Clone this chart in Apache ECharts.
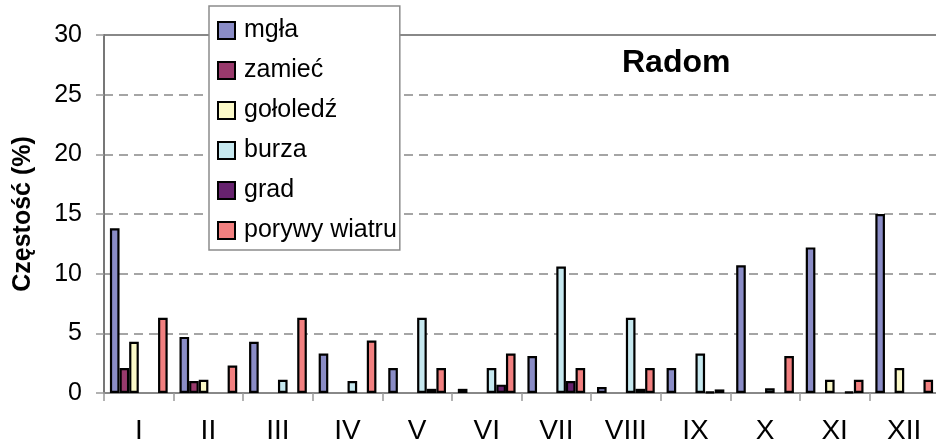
<!DOCTYPE html>
<html>
<head>
<meta charset="utf-8">
<script src="https://cdn.jsdelivr.net/npm/echarts@6/dist/echarts.min.js"></script>
<style>
	html, body { margin: 0; padding: 0; background: #fff; }
	#chart { width: 936px; height: 446px; }
</style>
</head>
<body>
<div id="chart"></div>
<script>
var months = ['I', 'II', 'III', 'IV', 'V', 'VI', 'VII', 'VIII', 'IX', 'X', 'XI', 'XII'];
var yTicks = [0, 5, 10, 15, 20, 25, 30];

// '-' = brak zjawiska (no bar drawn)
var mgla     = [13.8, 4.7, 4.3, 3.3, 2.1, 0.35, 3.1, 0.5, 2.1, 10.7, 12.2, 15.0];
var zamiec   = [2.1, 1.0, '-', '-', '-', '-', '-', '-', '-', '-', '-', '-'];
var gololedz = [4.3, 1.1, '-', '-', '-', '-', '-', '-', '-', '-', 1.1, 2.1];
var burza    = ['-', '-', 1.1, 1.0, 6.3, 2.1, 10.6, 6.3, 3.3, 0.4, '-', '-'];
var grad     = ['-', '-', '-', '-', 0.35, 0.7, 1.0, 0.35, 0.1, '-', 0.1, '-'];
var porywy   = [6.3, 2.3, 6.3, 4.4, 2.1, 3.3, 2.1, 2.1, 0.3, 3.1, 1.1, 1.1];

var names  = ['mgła', 'zamieć', 'gołoledź', 'burza', 'grad', 'porywy wiatru'];
var colors = ['#8a8cc6', '#993a6c', '#fbf9c8', '#c6e8ef', '#66226e', '#f28080'];

var font = "'Liberation Sans', Arial, sans-serif";

function makeSeries(){
	var values = [mgla, zamiec, gololedz, burza, grad, porywy];
	var list = [];
	for(var i=0; i<values.length; i++){
		list.push({
			name: names[i],
			type: 'bar',
			data: values[i],
			barGap: '0%',
			barCategoryGap: '17%',
			itemStyle: {
				color: colors[i],
				borderColor: '#000',
				borderWidth: 2.2
			},
			emphasis: { disabled: true }
		});
	}
	return list;
}

var chart = echarts.init(document.getElementById('chart'));

var option = {
	animation: false,
	textStyle: { fontFamily: font },
	title: {
		text: 'Radom',
		left: 622,
		top: 47,
		padding: 0,
		textStyle: {
			fontFamily: font,
			fontSize: 32,
			fontWeight: 'bold',
			color: '#000'
		}
	},
	legend: {
		data: names,
		orient: 'vertical',
		left: 209,
		top: 6,
		padding: [12, 3, 7, 8],
		itemGap: 15,
		itemWidth: 17,
		itemHeight: 17,
		icon: 'rect',
		backgroundColor: '#fff',
		borderColor: '#8c8c8c',
		borderWidth: 1.5,
		selectedMode: false,
		itemStyle: { borderColor: '#000', borderWidth: 2 },
		textStyle: {
			fontFamily: font,
			fontSize: 25,
			color: '#000',
			padding: [0, 0, 0, 4]
		}
	},
	grid: {
		left: 104,
		top: 35,
		width: 835,
		height: 358,
		show: true,
		borderColor: '#888',
		borderWidth: 2,
		containLabel: false,
		outerBoundsMode: 'none'
	},
	xAxis: {
		type: 'category',
		data: months,
		axisLine: { lineStyle: { color: '#888', width: 2 } },
		axisTick: { show: true, length: 8, lineStyle: { color: '#999', width: 1.5 } },
		axisLabel: {
			fontFamily: font,
			fontSize: 28,
			color: '#000',
			margin: 24
		}
	},
	yAxis: {
		type: 'value',
		min: yTicks[0],
		max: yTicks[yTicks.length - 1],
		interval: 5,
		name: 'Częstość (%)',
		nameLocation: 'middle',
		nameGap: 68,
		nameTextStyle: {
			fontFamily: font,
			fontSize: 25,
			fontWeight: 'bold',
			color: '#000'
		},
		axisLine: { show: true, lineStyle: { color: '#777', width: 2 } },
		axisTick: { show: true, length: 8, lineStyle: { color: '#999', width: 1.5 } },
		axisLabel: {
			fontFamily: font,
			fontSize: 25,
			color: '#000',
			margin: 22
		},
		splitLine: {
			show: true,
			lineStyle: { color: '#888', type: [9, 6], width: 1.5 }
		}
	},
	series: makeSeries()
};

chart.setOption(option);
</script>
</body>
</html>
